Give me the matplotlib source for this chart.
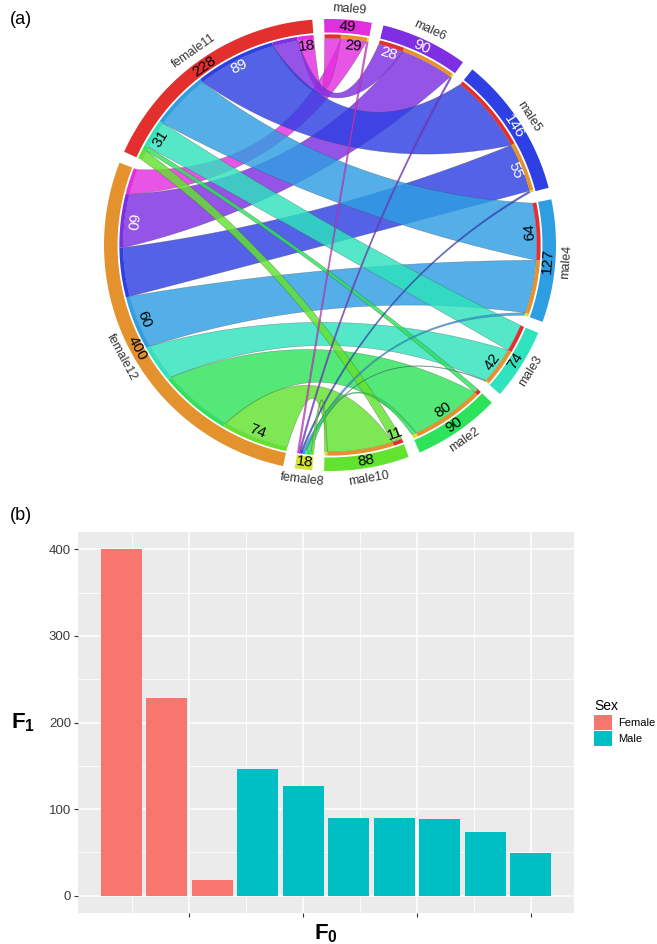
import numpy as np
import matplotlib.pyplot as plt
from matplotlib.patches import Polygon, Patch
from matplotlib.colors import to_rgba

plt.rcParams['font.family'] = ['Liberation Sans', 'DejaVu Sans']
plt.rcParams['mathtext.fontset'] = 'custom'
plt.rcParams['mathtext.bf'] = 'Liberation Sans:bold'
plt.rcParams['mathtext.rm'] = 'Liberation Sans'

# sectors, clockwise from the top of the circle
males = ['male9', 'male6', 'male5', 'male4', 'male3', 'male2', 'male10']
females = ['female8', 'female12', 'female11']
sectors = males + females

sector_color = {
    'male9': '#E32EE0', 'male6': '#7E2EE3', 'male5': '#2E40E3',
    'male4': '#2E9EE3', 'male3': '#2EE3BD', 'male2': '#2EE35C',
    'male10': '#62E32E', 'female8': '#D4E32E', 'female12': '#E3922E',
    'female11': '#E3302E',
}

# links female -> male, columns follow `males`
link_f11 = [18, 28, 89, 64, 31, 5, 11]
link_f12 = [29, 60, 55, 60, 42, 80, 74]
link_f8 = [2, 2, 2, 3, 1, 5, 3]
links = {'female11': link_f11, 'female12': link_f12, 'female8': link_f8}

# F1 counts per individual (bar chart and sector labels)
bar_names = ['female12', 'female11', 'female8', 'male5', 'male4', 'male6',
             'male2', 'male10', 'male3', 'male9']
f1_values = [400, 228, 18, 146, 127, 90, 90, 88, 74, 49]
f1_sex = ['Female', 'Female', 'Female', 'Male', 'Male', 'Male', 'Male',
          'Male', 'Male', 'Male']

# link values written next to the ribbons: (female, male, side)
link_labels = [('female11', 'male9', 'f'), ('female11', 'male5', 'f'),
               ('female11', 'male3', 'f'), ('female12', 'male6', 'f'),
               ('female12', 'male4', 'f'), ('female12', 'male10', 'f'),
               ('female12', 'male9', 'm'), ('female11', 'male6', 'm'),
               ('female12', 'male5', 'm'), ('female11', 'male4', 'm'),
               ('female12', 'male3', 'm'), ('female12', 'male2', 'm'),
               ('female11', 'male10', 'm')]
white_text = {'male6', 'male5'}

fig = plt.figure(figsize=(6.57, 9.44), dpi=100)

# ---------------- chord diagram ----------------
W, H = 657.0, 944.0
R = 226.0
cx, cy = 330.0, 245.0
ax = fig.add_axes([0, 0, 1, 1])
ax.set_xlim(-cx / R, (W - cx) / R)
ax.set_ylim(-(H - cy) / R, cy / R)
ax.axis('off')

r_out, r_in = 1.0, 0.94
s_out, s_in = 0.932, 0.915
r_link = s_in
gap = 3.0
start = 91.5

size = {m: sum(links[f][i] for f in links) for i, m in enumerate(males)}
for f in females:
    size[f] = sum(links[f])
total = sum(size.values())
deg_per = (360 - gap * len(sectors)) / total

span = {}
a = start
for s in sectors:
    span[s] = (a, a - size[s] * deg_per)
    a -= size[s] * deg_per + gap

# position of each link end inside its sector
f_order = males[::-1]
m_order = ['female11', 'female12', 'female8']
ends = {}
for f in females:
    a = span[f][0]
    for m in f_order:
        w = links[f][males.index(m)] * deg_per
        ends[(f, m, 'f')] = (a, a - w)
        a -= w
for m in males:
    a = span[m][0]
    for f in m_order:
        w = links[f][males.index(m)] * deg_per
        ends[(f, m, 'm')] = (a, a - w)
        a -= w


def pol(r, deg):
    t = np.radians(deg)
    return np.array([r * np.cos(t), r * np.sin(t)])


def arc(r, a0, a1, n=60):
    t = np.radians(np.linspace(a0, a1, n))
    return np.column_stack([r * np.cos(t), r * np.sin(t)])


def ring(r0, r1, a0, a1):
    return np.vstack([arc(r1, a0, a1), arc(r0, a1, a0)])


def bez(p0, p2, k=0.5, n=80):
    c = (p0 + p2) / 2 * k
    t = np.linspace(0, 1, n)[:, None]
    return (1 - t) ** 2 * p0 + 2 * (1 - t) * t * c + t ** 2 * p2


def flipped(s):
    mid = np.radians(sum(span[s]) / 2)
    return np.sin(mid) < 0


def txt(r, deg, s, flip, **kw):
    x, y = pol(r, deg)
    rot = deg + 90 if flip else deg - 90
    ax.text(x, y, s, rotation=rot, rotation_mode='anchor',
            ha='center', va='center', **kw)


# ribbons
for f in ['female12', 'female11', 'female8']:
    for m in males:
        if links[f][males.index(m)] == 0:
            continue
        fa0, fa1 = ends[(f, m, 'f')]
        ma0, ma1 = ends[(f, m, 'm')]
        pts = np.vstack([arc(r_link, fa0, fa1),
                         bez(pol(r_link, fa1), pol(r_link, ma0)),
                         arc(r_link, ma0, ma1),
                         bez(pol(r_link, ma1), pol(r_link, fa0))])
        ax.add_patch(Polygon(pts, closed=True,
                             fc=to_rgba(sector_color[m], 0.82),
                             ec=(0.25, 0.25, 0.25, 0.45), lw=0.4))

# sector blocks and the thin strips showing the other end of each link
total_label = dict(zip(bar_names, f1_values))
for s in sectors:
    a0, a1 = span[s]
    ax.add_patch(Polygon(ring(r_in, r_out, a0, a1), closed=True,
                         fc=sector_color[s], ec='none'))
    flip = flipped(s)
    mid = (a0 + a1) / 2
    txt(0.968, mid, str(total_label[s]), flip, fontsize=11,
        color='white' if s in white_text else 'black')
    txt(1.047, mid, s, flip, fontsize=9, color='#333333')

for (f, m, side), (a0, a1) in ends.items():
    other = m if side == 'f' else f
    ax.add_patch(Polygon(ring(s_in, s_out, a0, a1), closed=True,
                         fc=sector_color[other], ec='none'))

for f, m, side in link_labels:
    a0, a1 = ends[(f, m, side)]
    s = f if side == 'f' else m
    col = 'white' if m in white_text else 'black'
    txt(0.885, (a0 + a1) / 2, str(links[f][males.index(m)]), flipped(s),
        fontsize=11, color=col)

fig.text(10 / W, 1 - 20 / H, '(a)', fontsize=13, va='center', ha='left')
fig.text(10 / W, 1 - 515 / H, '(b)', fontsize=13, va='center', ha='left')

# ---------------- bar chart ----------------
pl, pr, pt, pb = 78, 574, 532, 913
ax2 = fig.add_axes([pl / W, 1 - pb / H, (pr - pl) / W, (pb - pt) / H])
ax2.set_facecolor('#EBEBEB')
x = np.arange(1, len(f1_values) + 1)
fill = {'Female': '#F8766D', 'Male': '#00BFC4'}
ax2.bar(x, f1_values, width=0.9, color=[fill[s] for s in f1_sex],
        zorder=3)
ax2.set_xlim(0.055, 10.945)
ax2.set_ylim(-20, 420)
ax2.set_xticks([2.5, 5, 7.5, 10])
ax2.set_xticklabels([])
ax2.set_xticks([1.25, 3.75, 6.25, 8.75], minor=True)
ax2.set_yticks([0, 100, 200, 300, 400])
ax2.set_yticks([50, 150, 250, 350], minor=True)
ax2.grid(which='major', color='white', lw=1.1, zorder=1)
ax2.grid(which='minor', color='white', lw=0.55, zorder=1)
ax2.set_axisbelow(True)
for sp in ax2.spines.values():
    sp.set_visible(False)
ax2.tick_params(which='major', length=3, width=0.8, color='#333333',
                labelcolor='#3C3C3C', labelsize=9.5, pad=2)
ax2.tick_params(which='minor', length=0)
ax2.set_ylabel(r'$\mathbf{F}_{\mathbf{1}}$', rotation=0, fontsize=16,
               va='center', ha='center')
ax2.yaxis.set_label_coords(-0.11, 0.5)
ax2.set_xlabel(r'$\mathbf{F}_{\mathbf{0}}$', fontsize=16, va='center')
ax2.xaxis.set_label_coords(0.5, -0.055)

handles = [Patch(fc=fill['Female']), Patch(fc=fill['Male'])]
leg = ax2.legend(handles, ['Female', 'Male'], title='Sex',
                 loc='center left', bbox_to_anchor=(1.03, 0.5),
                 frameon=False, fontsize=8, title_fontsize=10,
                 handlelength=1.6, handleheight=1.7, labelspacing=0.1,
                 handletextpad=0.5, borderpad=0, alignment='left')

fig.savefig('out.png', dpi=100)
